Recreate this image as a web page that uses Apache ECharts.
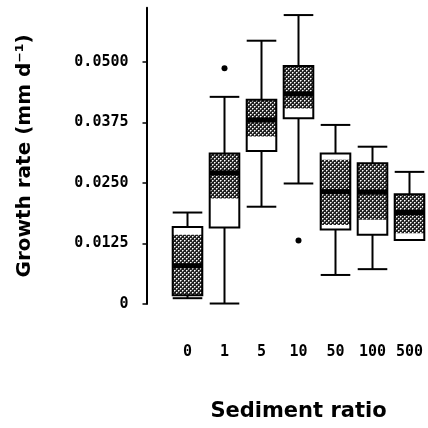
<!DOCTYPE html>
<html><head><meta charset="utf-8">
<script src="https://cdn.jsdelivr.net/npm/echarts@6/dist/echarts.min.js"></script>
<style>html,body{margin:0;padding:0;background:#fff}#c{width:428px;height:428px}</style>
</head><body><div id="c"></div>
<script>
// ---- data ----
const categories  = ['0', '1', '5', '10', '50', '100', '500'];
const whiskerLow  = [0.0012, 0.0001, 0.0201, 0.0249, 0.0060, 0.0072, 0.0132];
const boxLow      = [0.0018, 0.0158, 0.0316, 0.0384, 0.0154, 0.0143, 0.0132];
const medians     = [0.0079, 0.0271, 0.0380, 0.0434, 0.0232, 0.0231, 0.0189];
const boxHigh     = [0.0159, 0.0311, 0.0422, 0.0492, 0.0311, 0.0291, 0.0227];
const whiskerHigh = [0.0189, 0.0428, 0.0544, 0.0597, 0.0370, 0.0325, 0.0273];
const shadeLow    = [0.0018, 0.0218, 0.0346, 0.0404, 0.0163, 0.0174, 0.0146];
const shadeHigh   = [0.0143, 0.0311, 0.0422, 0.0492, 0.0298, 0.0291, 0.0227];
const outlierCats = ['1', '10'];
const outlierVals = [0.0487, 0.0131];
const yTicks      = [0, 0.0125, 0.025, 0.0375, 0.05];
const yTickLabels = ['0', '0.0125', '0.0250', '0.0375', '0.0500'];

// halftone pattern (offset dots)
const tile = document.createElement('canvas');
tile.width = 4; tile.height = 4;
const g = tile.getContext('2d');
g.fillStyle = '#222'; g.fillRect(0, 0, 4, 4);
g.fillStyle = '#fff'; g.fillRect(0, 0, 1, 1); g.fillRect(2, 2, 1, 1);
g.fillStyle = '#999'; g.fillRect(1, 0, 1, 1); g.fillRect(0, 1, 1, 1); g.fillRect(3, 2, 1, 1); g.fillRect(2, 3, 1, 1);
const pattern = { image: tile, repeat: 'repeat' };

const boxData = categories.map((c, i) => [i, whiskerLow[i], boxLow[i], medians[i], boxHigh[i], whiskerHigh[i], shadeLow[i], shadeHigh[i]]);

function renderBox(params, api) {
  const i = api.value(0);
  const bw = api.size([1, 0])[0] * 0.8;
  const half = bw / 2;
  const cx = api.coord([i, 0])[0];
  const y = k => api.coord([i, api.value(k)])[1];
  const yWL = y(1), yQ1 = y(2), yMed = y(3), yQ3 = y(4), yWH = y(5), ySL = y(6), ySH = y(7);
  const ls = { stroke: '#000', lineWidth: 2, fill: null };
  const ch = [];
  if (api.value(5) > api.value(4)) {
    ch.push({ type: 'line', shape: { x1: cx, y1: yQ3, x2: cx, y2: yWH }, style: ls });
    ch.push({ type: 'line', shape: { x1: cx - half, y1: yWH, x2: cx + half, y2: yWH }, style: ls });
  }
  if (api.value(1) < api.value(2)) {
    ch.push({ type: 'line', shape: { x1: cx, y1: yQ1, x2: cx, y2: yWL }, style: ls });
    ch.push({ type: 'line', shape: { x1: cx - half, y1: yWL, x2: cx + half, y2: yWL }, style: ls });
  }
  ch.push({ type: 'rect', shape: { x: cx - half, y: yQ3, width: bw, height: yQ1 - yQ3 }, style: { fill: '#fff', stroke: null } });
  ch.push({ type: 'rect', shape: { x: cx - half, y: ySH, width: bw, height: ySL - ySH }, style: { fill: pattern, stroke: null } });
  ch.push({ type: 'rect', shape: { x: cx - half, y: yMed - 2.5, width: bw, height: 5 }, style: { fill: '#000' } });
  ch.push({ type: 'rect', shape: { x: cx - half, y: yQ3, width: bw, height: yQ1 - yQ3 }, style: ls });
  return { type: 'group', children: ch };
}

const chart = echarts.init(document.getElementById('c'), null, { renderer: 'canvas' });
chart.setOption({
  animation: false,
  backgroundColor: '#fff',
  grid: { left: 169, right: -4, top: 7.8, bottom: 124 },
  xAxis: {
    type: 'category', data: categories,
    axisLine: { show: false }, axisTick: { show: false },
    axisLabel: { margin: 41, fontFamily: 'DejaVu Sans Mono', fontWeight: 'bold', fontSize: 15, color: '#000' },
    name: 'Sediment ratio', nameLocation: 'middle', nameGap: 97,
    nameTextStyle: { fontFamily: 'DejaVu Sans', fontWeight: 'bold', fontSize: 21, color: '#000' }
  },
  yAxis: {
    type: 'value', min: 0, max: 0.0612, offset: 22.5,
    splitLine: { show: false },
    axisLine: { show: true, lineStyle: { color: '#000', width: 2 } },
    axisTick: { show: true, length: 4, customValues: yTicks, lineStyle: { color: '#000', width: 1.5 } },
    axisLabel: {
      customValues: yTicks, margin: 18,
      formatter: v => { const k = yTicks.findIndex(t => Math.abs(t - v) < 1e-9); return k >= 0 ? yTickLabels[k] : ''; },
      fontFamily: 'DejaVu Sans Mono', fontWeight: 'bold', fontSize: 15, color: '#000'
    },
    name: 'Growth rate (mm d\u207B\u00B9)', nameLocation: 'middle', nameRotate: 90, nameGap: 112,
    nameTextStyle: { fontFamily: 'DejaVu Sans', fontWeight: 'bold', fontSize: 20, color: '#000' }
  },
  series: [
    { type: 'custom', renderItem: renderBox, data: boxData, encode: { x: 0, y: [1, 5] }, clip: false },
    {
      type: 'scatter',
      data: outlierCats.map((c, i) => [c, outlierVals[i]]),
      symbol: 'circle', symbolSize: 6,
      itemStyle: { color: '#000', opacity: 1 }
    }
  ]
});
</script>
</body></html>
